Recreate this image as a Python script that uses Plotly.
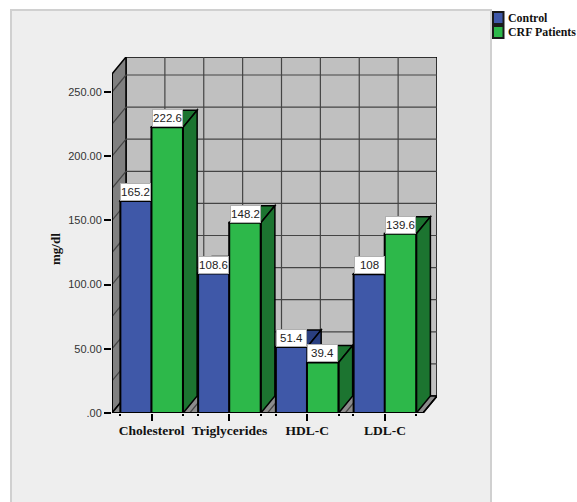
import plotly.graph_objects as go

categories = ["Cholesterol", "Triglycerides", "HDL-C", "LDL-C"]
control = [165.2, 108.6, 51.4, 108]
crf_patients = [222.6, 148.2, 39.4, 139.6]
series_names = ["Control", "CRF Patients"]
y_ticks = [0, 50, 100, 150, 200, 250]
y_tick_labels = [".00", "50.00", "100.00", "150.00", "200.00", "250.00"]

W, H = 577, 502
L, R, T, B = 112, 437, 57, 413          # plot area in pixels
CAT_PX = 77.75
UNIT_PX = 1.284
DX = 14 / CAT_PX                        # depth of the box, x units
DY = 17 / UNIT_PX                       # depth of the box, y units
X_MAX = (R - L) / CAT_PX
Y_MAX = (B - T) / UNIT_PX
X_END = 4.0
Y_END = Y_MAX - DY
BAR_W = 0.405
CENTER = 0.51                           # bar pair centre inside each category band

BLUE, BLUE_DK = "#3f58a8", "#2a3f80"
GREEN, GREEN_DK = "#2db84a", "#1c7430"
WALL, SIDE, FLOOR = "#c0c0c0", "#808080", "#8c8c8c"
PANEL, PANEL_EDGE = "#eeeeee", "#d0d0d0"
GRID = "#444444"


def poly(points, fill, line="black", width=1.5):
    path = "M" + " L".join(f"{x},{y}" for x, y in points) + " Z"
    return dict(type="path", path=path, xref="x", yref="y", layer="below",
                fillcolor=fill, line=dict(color=line, width=width))


def seg(x0, y0, x1, y1, color=GRID, width=1.2):
    return dict(type="line", x0=x0, y0=y0, x1=x1, y1=y1, xref="x", yref="y",
                layer="below", line=dict(color=color, width=width))


def panel_rect(x0, y0, x1, y1, fill, line=None, width=0):
    return dict(type="rect", xref="paper", yref="paper", layer="below",
                x0=(x0 - L) / (R - L), x1=(x1 - L) / (R - L),
                y0=(B - y1) / (B - T), y1=(B - y0) / (B - T),
                fillcolor=fill, line=dict(color=line or fill, width=width))


shapes = [panel_rect(11, 10, 491, 503, PANEL, PANEL_EDGE, 2)]

# Box walls and floor
shapes.append(poly([(DX, DY), (X_MAX, DY), (X_MAX, Y_MAX), (DX, Y_MAX)], WALL))
shapes.append(poly([(0, 0), (DX, DY), (DX, Y_MAX), (0, Y_END)], SIDE))
shapes.append(poly([(0, 0), (X_END, 0), (X_MAX, DY), (DX, DY)], FLOOR))

# Wall grid at 25 unit steps, half-category verticals
for i in range(1, 11):
    v = i * 25
    shapes.append(seg(DX, v + DY, X_MAX, v + DY))
    shapes.append(seg(0, v, DX, v + DY))
for i in range(1, 8):
    c = i * 0.5
    shapes.append(seg(c + DX, DY, c + DX, Y_MAX))
    shapes.append(seg(c, 0, c + DX, DY))
shapes.append(seg(X_END, 0, X_MAX, DY, "black", 1.5))
shapes.append(seg(0, 0, 0, Y_END, "black", 2))
shapes.append(seg(-0.09, 0, X_END, 0, "black", 2))

x_pos = [i + CENTER for i in range(len(categories))]

# Depth faces behind the front bars
for i, c in enumerate(x_pos):
    for left, val, dark in ((c - BAR_W, control[i], BLUE_DK), (c, crf_patients[i], GREEN_DK)):
        right = left + BAR_W
        shapes.append(poly([(left, val), (right, val), (right + DX, val + DY), (left + DX, val + DY)], dark))
        shapes.append(poly([(right, 0), (right + DX, DY), (right + DX, val + DY), (right, val)], dark))

fig = go.Figure()
for name, vals, color in ((series_names[0], control, BLUE), (series_names[1], crf_patients, GREEN)):
    fig.add_trace(go.Bar(x=x_pos, y=vals, name=name, width=BAR_W,
                         marker=dict(color=color, line=dict(color="black", width=2)),
                         showlegend=False, hoverinfo="skip"))

annotations = []
for i, c in enumerate(x_pos):
    for x, val in ((c - BAR_W / 2, control[i]), (c + BAR_W / 2, crf_patients[i])):
        annotations.append(dict(x=x, y=val, xref="x", yref="y", text=f"{val:g}", showarrow=False,
                                xanchor="center", yanchor="bottom", width=29, height=16,
                                bgcolor="white", bordercolor="#b0b0b0", borderwidth=1, borderpad=0,
                                font=dict(family="Liberation Sans", size=11.5, color="#222222")))

# Legend keys and names
for k, (name, color) in enumerate(zip(series_names, (BLUE, GREEN))):
    top = 12 + k * 14
    shapes.append(panel_rect(493, top, 503.5, top + 12, color, "#1a1a1a", 2))
    annotations.append(dict(x=(505.5 - L) / (R - L), y=(B - top - 6) / (B - T), xref="paper", yref="paper",
                            text=f"<b>{name}</b>", showarrow=False, xanchor="left", yanchor="middle",
                            font=dict(family="Liberation Serif", size=11.9, color="#111111")))

# Value-axis caption
annotations.append(dict(x=(55 - L) / (R - L), y=(B - 249) / (B - T), xref="paper", yref="paper",
                        text="<b>mg/dl</b>", showarrow=False, textangle=-90,
                        xanchor="center", yanchor="middle",
                        font=dict(family="Liberation Serif", size=13, color="#111111")))

minor_ticks = sorted(c + s * BAR_W for c in x_pos for s in (-1, 1))

fig.update_layout(
    width=W, height=H, autosize=False,
    margin=dict(l=L, r=W - R, t=T, b=H - B),
    paper_bgcolor="white", plot_bgcolor="rgba(0,0,0,0)",
    barmode="group", showlegend=False,
    shapes=shapes, annotations=annotations,
    xaxis=dict(range=[0, X_MAX], tickmode="array", tickvals=x_pos,
               ticktext=[f"<b>{c}</b>" for c in categories],
               ticks="outside", ticklen=7, tickwidth=1.5, tickcolor="black", showgrid=False,
               zeroline=False, showline=False, ticklabelstandoff=-2,
               minor=dict(tickmode="array", tickvals=minor_ticks, ticks="outside", ticklen=2,
                          tickwidth=1.5, tickcolor="black", showgrid=False),
               tickfont=dict(family="Liberation Serif", size=13.5, color="#111111")),
    yaxis=dict(range=[0, Y_MAX], tickmode="array", tickvals=y_ticks, ticktext=y_tick_labels,
               ticks="outside", ticklen=7, tickwidth=1.5, tickcolor="black", showgrid=False,
               zeroline=False, showline=False,
               tickfont=dict(family="Liberation Sans", size=11, color="#333333")),
)

fig.write_html("out.html", config=dict(displayModeBar=False))
